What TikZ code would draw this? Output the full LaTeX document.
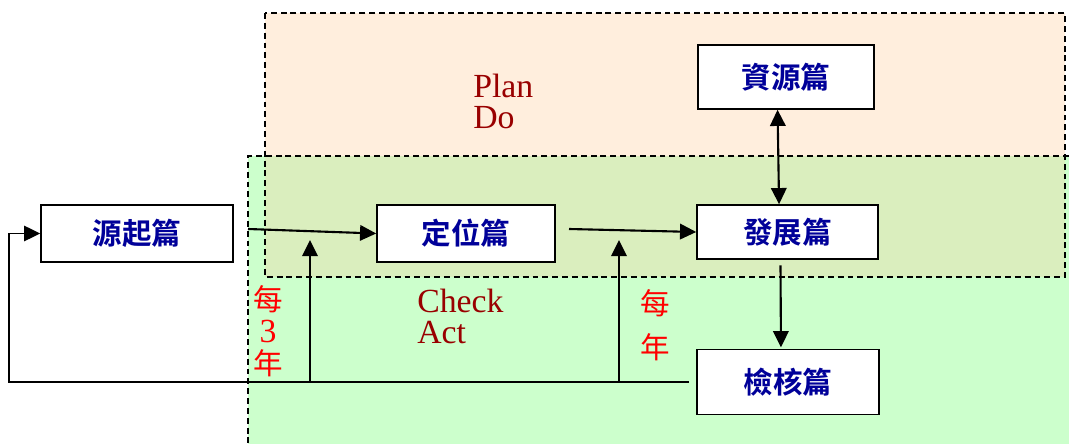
\documentclass[tikz,border=0pt]{standalone}
\usepackage{fontspec}
\setmainfont{Liberation Serif}
\newfontfamily\cjk[BoldFont={Noto Sans CJK TC Bold}]{Noto Sans CJK TC}
\usepackage{tikz}
\usetikzlibrary{arrows.meta}
\definecolor{planbg}{HTML}{FFEEDD}
\definecolor{checkbg}{HTML}{CCFFCC}
\definecolor{bothbg}{HTML}{DAEEBE}
\definecolor{boxtext}{HTML}{000099}
\definecolor{pdca}{HTML}{990000}

\begin{document}
\begin{tikzpicture}[x=0.025cm, y=-0.025cm,
        >={Triangle[length=11.5pt, width=11pt]},
        pian/.style={draw, line width=1.1pt, fill=white, text=boxtext,
            font=\cjk\bfseries\fontsize{21}{21}\selectfont},
        arr/.style={line width=1.5pt, ->},
        zone/.style={line width=0.9pt, dash pattern=on 4.2pt off 2.8pt},
        redlab/.style={text=red, align=center, inner sep=0pt,
            font=\cjk\fontsize{21}{22.7}\selectfont},
        phase/.style={text=pdca, align=left, anchor=west, inner sep=0pt,
            font=\fontsize{24}{22}\selectfont}]
            \useasboundingbox (0,0) rectangle (1069,444);

            \fill[checkbg] (248,156) rectangle (1069,444);
            \fill[planbg] (265,13) rectangle (1065,277);
            \fill[bothbg] (265,156) rectangle (1065,277);
            \draw[zone] (1069,156) -- (248,156) -- (248,444);
            \draw[zone] (265,13) rectangle (1065,277);

            \node[pian, minimum width=4.8cm, minimum height=1.425cm] (src) at (137,233.5) {源起篇};
            \node[pian, minimum width=4.45cm, minimum height=1.425cm] (pos) at (466,233.5) {定位篇};
            \node[pian, minimum width=4.4cm, minimum height=1.6cm] (res) at (786,77) {資源篇};
            \node[pian, minimum width=4.525cm, minimum height=1.35cm] (dev) at (787.5,232) {發展篇};
            \node[pian, minimum width=4.55cm, minimum height=1.625cm] (chk) at (788,382) {檢核篇};

            \node[phase] (pd) at (473,101) {Plan\\Do};
            \node[phase] (ca) at (417,316) {Check\\Act};
            \node[redlab] (every3) at (268,331) {每\\{\rmfamily\fontsize{24}{22.7}\selectfont 3}\\年};
            \node[redlab] (every1) at (655,325) {每\\[9pt]年};

            \coordinate (in1) at (248,229);
            \coordinate (in2) at (569,229);
            \coordinate (foot) at (9,382);
            \coordinate (up1) at (310,382);
            \coordinate (tip1) at (310,240);
            \coordinate (up2) at (619,382);
            \coordinate (tip2) at (619,240);

            \draw[arr] (in1) -- (pos.west);
            \draw[arr] (in2) -- (dev.west);
            \draw[arr, <->] ([xshift=-6pt]res.south) -- ([xshift=-6pt]dev.north);
            \draw[arr, shorten <=4pt, shorten >=1pt] ([xshift=-5pt]dev.south) -- ([xshift=-5pt]chk.north);
            \draw[arr, line width=1.2pt, shorten <=5pt] (chk.west) -- (foot) |- (src.west);
            \draw[arr] (up1) -- (tip1);
            \draw[arr] (up2) -- (tip2);
        \end{tikzpicture}
\end{document}
